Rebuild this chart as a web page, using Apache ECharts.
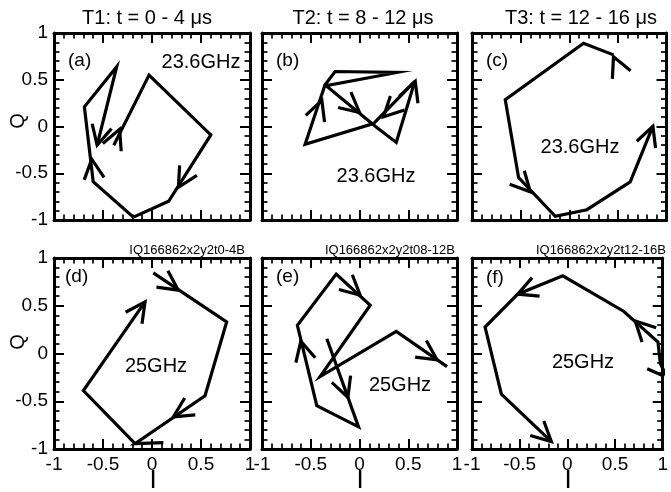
<!DOCTYPE html>
<html>
<head>
<meta charset="utf-8">
<script src="https://cdn.jsdelivr.net/npm/echarts@6/dist/echarts.min.js"></script>
<style>
  html, body { margin: 0; padding: 0; background: #fff; }
  #chart { width: 671px; height: 492px; }
</style>
</head>
<body>
<div id="chart"></div>
<script>
// IQ trajectories, [I, Q] points in time order
const pathA = [[-0.39, -0.20], [-0.03, 0.55], [0.60, -0.09], [0.17, -0.80], [-0.19, -0.97], [-0.60, -0.59], [-0.69, 0.21], [-0.36, 0.64], [-0.56, -0.20]];
const pathB = [[0.567, 0.482], [0.144, 0.032], [-0.558, -0.191], [-0.353, 0.447], [-0.25, 0.588], [0.384, 0.578], [-0.342, 0.436], [0.161, 0.003], [0.377, -0.17], [0.567, 0.482]];
const pathC = [[0.455, 0.766], [0.147, 0.89], [-0.658, 0.287], [-0.521, -0.546], [-0.144, -0.961], [0.182, -0.89], [0.627, -0.592], [0.86, 0.003]];
const pathD = [[0.013, 0.845], [0.762, 0.33], [0.541, -0.442], [-0.173, -0.944], [0.116, -0.933], [-0.173, -0.944], [-0.70, -0.389], [-0.071, 0.54]];
const pathE = [[-0.335, 0.155], [-0.01, -0.768], [-0.438, -0.547], [-0.637, 0.295], [-0.239, 0.832], [0.11, 0.505], [-0.404, -0.242], [0.377, 0.232], [0.898, -0.137]];
const pathF = [[1.048, -0.253], [0.976, -0.108], [0.95, 0.119], [0.593, 0.44], [-0.048, 0.814], [-0.521, 0.621], [-0.863, 0.277], [-0.692, -0.425], [-0.168, -0.923]];

// direction arrows: [I, Q, heading in degrees]
const arrowsA = [[-0.33, -0.03, 67], [0.27, -0.65, 240], [-0.615, -0.35, 97], [-0.56, -0.20, 256]];
const arrowsB = [[-0.386, 0.28, 70], [0.0, 0.15, -40], [0.247, 0.103, 225], [0.572, 0.482, 70]];
const arrowsC = [[0.455, 0.745, 114], [-0.40, -0.699, -47], [0.86, 0.003, 70]];
const arrowsD = [[0.268, 0.663, -35], [0.218, -0.663, 212], [-0.071, 0.54, 55]];
const arrowsE = [[-0.119, -0.46, -70], [-0.602, 0.129, 104], [0.007, 0.61, -42], [0.795, -0.066, -34]];
const arrowsF = [[0.712, 0.34, 135], [-0.521, 0.621, 202], [-0.168, -0.923, -43], [1.048, -0.253, -51]];

const panelLetters = ['(a)', '(b)', '(c)', '(d)', '(e)', '(f)'];
const freqLabels = ['23.6GHz', '23.6GHz', '23.6GHz', '25GHz', '25GHz', '25GHz'];
const columnTitles = ['T1: t = 0 - 4 \u03bcs', 'T2: t = 8 - 12 \u03bcs', 'T3: t = 12 - 16 \u03bcs'];
const fileTags = ['IQ166862x2y2t0-4B', 'IQ166862x2y2t08-12B', 'IQ166862x2y2t12-16B'];
const axisNameX = 'I';
const axisNameY = 'Q';

const paths = [pathA, pathB, pathC, pathD, pathE, pathF];
const arrows = [arrowsA, arrowsB, arrowsC, arrowsD, arrowsE, arrowsF];

// layout
const colLeft = [54, 262, 472];
const colWidth = [196, 195, 194.5];
const rowTop = [33, 258];
const rowHeight = [187, 191];
const FONT = 'Liberation Sans';

const grids = [], xAxes = [], yAxes = [], series = [];

function axisCommon(gridIndex, position, showLabel) {
  return {
    type: 'value', gridIndex: gridIndex, position: position,
    min: -1, max: 1, interval: 0.5,
    axisLine: { show: true, onZero: false, lineStyle: { color: '#000', width: 3 } },
    axisTick: { show: true, inside: true, length: 10, lineStyle: { color: '#000', width: 2 } },
    minorTick: { show: true, splitNumber: 5, length: 5.5, lineStyle: { color: '#000', width: 1.7 } },
    splitLine: { show: false },
    minorSplitLine: { show: false },
    axisLabel: {
      show: showLabel, color: '#000', fontSize: 19, fontFamily: FONT, margin: 6,
      showMinLabel: true, showMaxLabel: true
    }
  };
}

const HEAD_LEN = 22;
const HEAD_HALF = 27 * Math.PI / 180;

function renderArrow(params, api) {
  const tip = api.coord([api.value(0), api.value(1)]);
  const back = api.value(2) * Math.PI / 180 + Math.PI;
  const w1 = [tip[0] + HEAD_LEN * Math.cos(back + HEAD_HALF), tip[1] - HEAD_LEN * Math.sin(back + HEAD_HALF)];
  const w2 = [tip[0] + HEAD_LEN * Math.cos(back - HEAD_HALF), tip[1] - HEAD_LEN * Math.sin(back - HEAD_HALF)];
  return {
    type: 'polyline',
    shape: { points: [w1, tip, w2] },
    style: { stroke: '#000', lineWidth: 3.2, fill: null, lineJoin: 'miter', lineCap: 'butt' }
  };
}

for (let i = 0; i < 6; i++) {
  const r = Math.floor(i / 3), c = i % 3;
  grids.push({ left: colLeft[c], top: rowTop[r], width: colWidth[c], height: rowHeight[r], containLabel: false });
  xAxes.push(axisCommon(i, 'bottom', r === 1));
  xAxes.push(axisCommon(i, 'top', false));
  yAxes.push(axisCommon(i, 'left', c === 0));
  yAxes.push(axisCommon(i, 'right', false));

  series.push({
    type: 'line', xAxisIndex: 2 * i, yAxisIndex: 2 * i,
    data: paths[i], showSymbol: false, symbol: 'none', clip: true,
    lineStyle: { color: '#000', width: 3.2, join: 'miter', cap: 'butt' },
    silent: true, animation: false
  });
  series.push({
    type: 'custom', xAxisIndex: 2 * i, yAxisIndex: 2 * i,
    data: arrows[i], encode: { x: 0, y: 1 }, clip: true,
    renderItem: renderArrow, silent: true, animation: false
  });
}

// annotation text
const graphic = [];
function addText(text, x, y, size, align, extra) {
  graphic.push(Object.assign({
    type: 'text', x: x, y: y, silent: true,
    style: { text: text, fill: '#000', font: size + 'px ' + FONT, align: align || 'center', verticalAlign: 'middle' }
  }, extra || {}));
}

const titleX = [147, 363, 581];
columnTitles.forEach((t, k) => addText(t, titleX[k], 18.5, 20, 'center'));

const tagRight = [245, 455, 666];
fileTags.forEach((t, k) => addText(t, tagRight[k], 250, 13, 'right'));

const letterPos = [[68, 61], [276, 61], [486, 61], [65, 277], [276, 277], [486, 278]];
panelLetters.forEach((t, k) => addText(t, letterPos[k][0], letterPos[k][1], 19, 'left'));

const freqPos = [[201, 62], [376, 176], [580, 147], [156, 366], [400, 385], [583, 362]];
freqLabels.forEach((t, k) => addText(t, freqPos[k][0], freqPos[k][1], 20, 'center'));

[153, 360, 568].forEach(x => addText(axisNameX, x, 481, 26, 'center'));
[121, 342].forEach(y => addText(axisNameY, 18, y, 20, 'center', { rotation: Math.PI / 2 }));

const chart = echarts.init(document.getElementById('chart'), null, { renderer: 'canvas' });
chart.setOption({
  backgroundColor: '#fff',
  animation: false,
  textStyle: { fontFamily: FONT },
  grid: grids,
  xAxis: xAxes,
  yAxis: yAxes,
  series: series,
  graphic: graphic
});
</script>
</body>
</html>
